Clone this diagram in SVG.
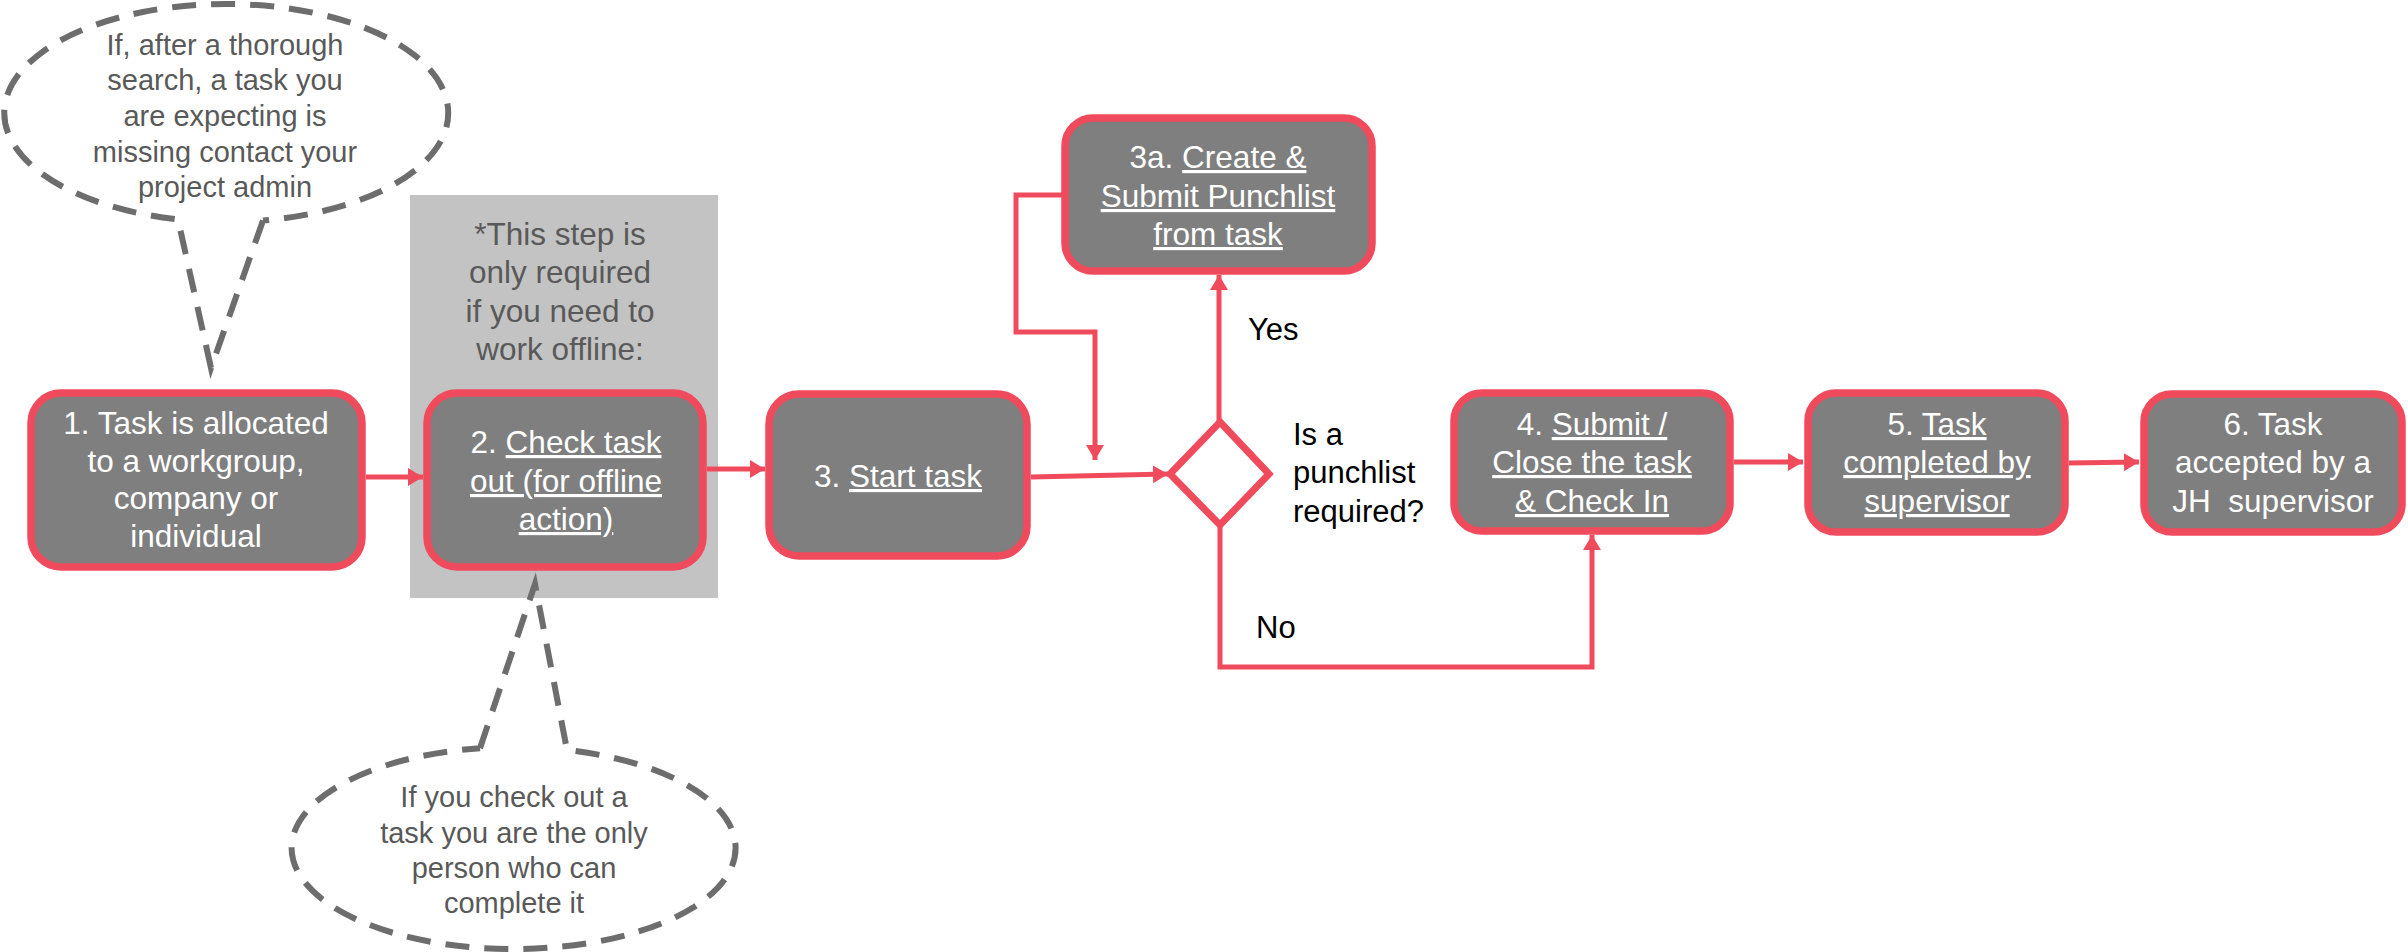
<svg xmlns="http://www.w3.org/2000/svg" width="2408" height="952" viewBox="0 0 2408 952">
<defs>
<style>
.node{fill:#7f7f7f;stroke:#EF4B5C;stroke-width:7.5}
.nt{font-family:"Liberation Sans",Arial,sans-serif;font-size:31.5px;fill:#ffffff;text-anchor:middle}
.u{text-decoration:underline}
.con{fill:none;stroke:#EF4B5C;stroke-width:5}
.call{fill:none;stroke:#6d6d6d;stroke-width:6;stroke-dasharray:24 15}
.ct{font-family:"Liberation Sans",Arial,sans-serif;font-size:29px;fill:#595959;text-anchor:middle}
.gt{font-family:"Liberation Sans",Arial,sans-serif;font-size:31.5px;fill:#595959;text-anchor:middle}
.lbl{font-family:"Liberation Sans",Arial,sans-serif;font-size:31px;fill:#000000}
</style>
<marker id="ah" markerUnits="userSpaceOnUse" markerWidth="16" markerHeight="18" refX="15" refY="9" orient="auto">
<path d="M0,0 L15,9 L0,18 z" fill="#EF4B5C"/>
</marker>
</defs>
<rect width="2408" height="952" fill="#ffffff"/>

<g id="offline-box">
<rect x="410" y="195" width="308" height="403" fill="#c3c3c3"/>
<text class="gt"><tspan x="560" y="245">*This step is</tspan><tspan x="560" y="283">only required</tspan><tspan x="560" y="322">if you need to</tspan><tspan x="560" y="360">work offline:</tspan></text>
</g>

<g id="callout-missing">
<path class="call" d="M263,220.5 L211,368 L178,219.4 A222,109 0 1 1 263,220.5"/>
<text class="ct"><tspan x="225" y="55">If, after a thorough</tspan><tspan x="225" y="90">search, a task you</tspan><tspan x="225" y="126">are expecting is</tspan><tspan x="225" y="162">missing contact your</tspan><tspan x="225" y="197">project admin</tspan></text>
</g>

<g id="callout-checkout">
<path class="call" d="M480,748.2 L535,584 L567,750 A222,101 0 1 1 480,748.2"/>
<text class="ct"><tspan x="514" y="807">If you check out a</tspan><tspan x="514" y="843">task you are the only</tspan><tspan x="514" y="878">person who can</tspan><tspan x="514" y="913">complete it</tspan></text>
</g>

<g id="connectors">
<line class="con" x1="366" y1="477" x2="423" y2="477" marker-end="url(#ah)"/>
<line class="con" x1="707" y1="469" x2="765" y2="469" marker-end="url(#ah)"/>
<line class="con" x1="1031" y1="477" x2="1168" y2="474" marker-end="url(#ah)"/>
<polyline class="con" points="1062,195 1016,195 1016,332 1095,332 1095,460" marker-end="url(#ah)"/>
<line class="con" x1="1219" y1="422" x2="1219" y2="275" marker-end="url(#ah)"/>
<polyline class="con" points="1220,525 1220,667 1592,667 1592,535" marker-end="url(#ah)"/>
<line class="con" x1="1734" y1="462" x2="1803" y2="462" marker-end="url(#ah)"/>
<line class="con" x1="2069" y1="463" x2="2139" y2="462" marker-end="url(#ah)"/>
<text class="lbl" x="1248" y="340">Yes</text>
<text class="lbl" x="1256" y="638">No</text>
</g>

<g id="node1">
<rect class="node" x="31" y="393" width="331" height="174" rx="30"/>
<text class="nt"><tspan x="196" y="434">1. Task is allocated</tspan><tspan x="196" y="472">to a workgroup,</tspan><tspan x="196" y="509">company or</tspan><tspan x="196" y="547">individual</tspan></text>
</g>

<g id="node2">
<rect class="node" x="427" y="393" width="276" height="174" rx="30"/>
<text class="nt"><tspan x="566" y="453">2. <tspan class="u">Check task</tspan></tspan><tspan x="566" y="492" class="u">out (for offline</tspan><tspan x="566" y="530" class="u">action)</tspan></text>
</g>

<g id="node3">
<rect class="node" x="769" y="394" width="258" height="162" rx="30"/>
<text class="nt"><tspan x="898" y="487">3. <tspan class="u">Start task</tspan></tspan></text>
</g>

<g id="node3a">
<rect class="node" x="1065" y="118" width="307" height="153" rx="28"/>
<text class="nt"><tspan x="1218" y="168">3a. <tspan class="u">Create &amp;</tspan></tspan><tspan x="1218" y="207" class="u">Submit Punchlist</tspan><tspan x="1218" y="245" class="u">from task</tspan></text>
</g>

<g id="decision">
<polygon points="1220,422 1269,474 1220,525 1170,474" fill="#ffffff" stroke="#EF4B5C" stroke-width="7"/>
<text class="lbl"><tspan x="1293" y="445">Is a</tspan><tspan x="1293" y="483">punchlist</tspan><tspan x="1293" y="522">required?</tspan></text>
</g>

<g id="node4">
<rect class="node" x="1454" y="393" width="276" height="138" rx="28"/>
<text class="nt"><tspan x="1592" y="435">4. <tspan class="u">Submit /</tspan></tspan><tspan x="1592" y="473" class="u">Close the task</tspan><tspan x="1592" y="512" class="u">&amp; Check In</tspan></text>
</g>

<g id="node5">
<rect class="node" x="1808" y="393" width="257" height="139" rx="28"/>
<text class="nt"><tspan x="1937" y="435">5. <tspan class="u">Task</tspan></tspan><tspan x="1937" y="473" class="u">completed by</tspan><tspan x="1937" y="512" class="u">supervisor</tspan></text>
</g>

<g id="node6">
<rect class="node" x="2144" y="394" width="258" height="138" rx="28"/>
<text class="nt" xml:space="preserve"><tspan x="2273" y="435">6. Task</tspan><tspan x="2273" y="473">accepted by a</tspan><tspan x="2273" y="512">JH  supervisor</tspan></text>
</g>
</svg>
